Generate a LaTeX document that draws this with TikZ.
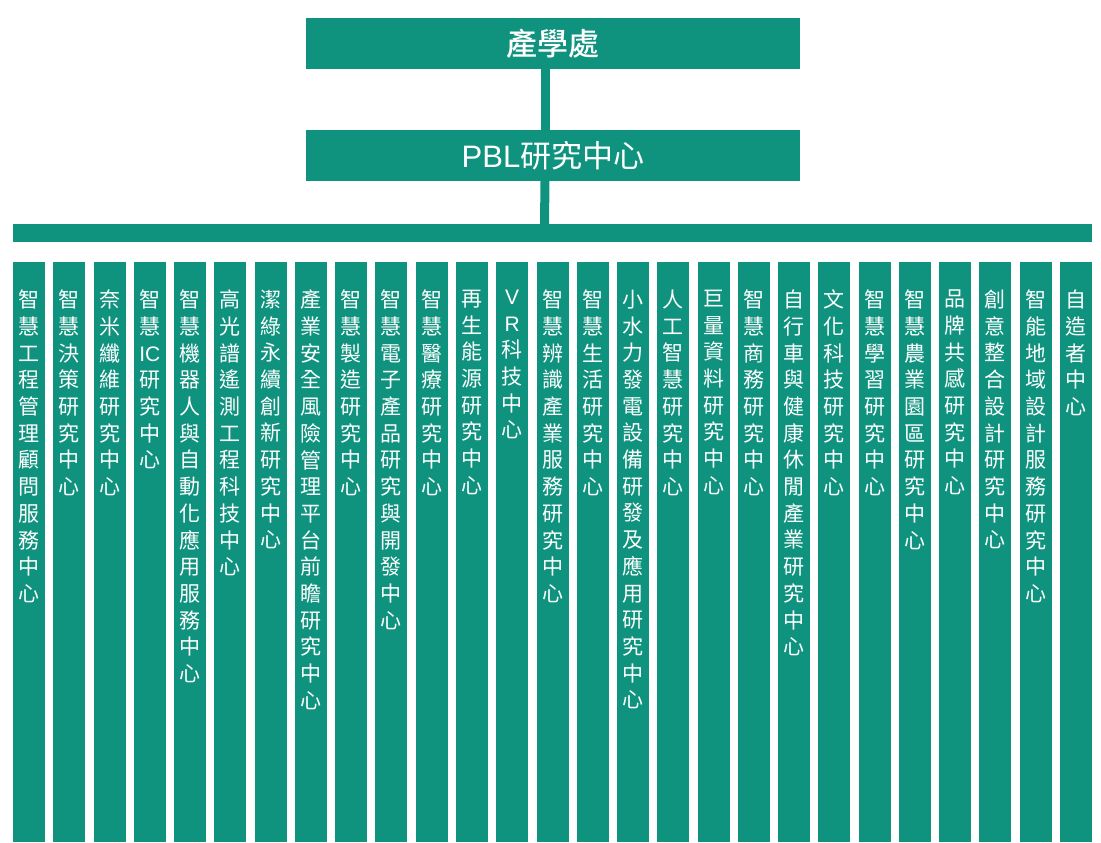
\documentclass[tikz,border=0pt]{standalone}
\usepackage{fontspec}
\newfontfamily\cjk[BoldFont={Noto Sans CJK TC Medium}]{Noto Sans CJK TC}
\newfontfamily\latin{Liberation Sans}
\usetikzlibrary{positioning}
\definecolor{pblgreen}{HTML}{0F937F}

\begin{document}
\begin{tikzpicture}[
  x=1pt, y=-1pt,
  box/.style={fill=pblgreen, inner sep=0pt, text=white},
  head/.style={box, minimum width=494pt, minimum height=51pt, font=\cjk\fontsize{31}{36}\selectfont},
  column/.style={box, minimum width=32pt, minimum height=580pt},
  colText/.style={text=white, inner sep=0pt, align=center, font=\cjk\fontsize{21}{26.7}\selectfont},
  link/.style={draw=pblgreen, line width=9pt}
]
  \useasboundingbox (0,0) rectangle (1101,843);

  \node[head, font=\cjk\bfseries\fontsize{31}{36}\selectfont] (office) at (553,43.5) {產學處};
  \node[head] (pbl) at (553,155.5) {{\latin PBL}研究中心};
  \node[box, minimum width=1079pt, minimum height=18pt] (bar) at (552.5,233) {};

  \draw[link] ([xshift=-8pt]office.south) -- ([xshift=-8pt]pbl.north);
  \draw[link] ([xshift=-8pt]pbl.south) -- ([xshift=-8pt]bar.north);

  % research centres, left to right
  \foreach \name [count=\i] in {
    {智\\慧\\工\\程\\管\\理\\顧\\問\\服\\務\\中\\心},
    {智\\慧\\決\\策\\研\\究\\中\\心},
    {奈\\米\\纖\\維\\研\\究\\中\\心},
    {智\\慧\\{\latin IC}\\研\\究\\中\\心},
    {智\\慧\\機\\器\\人\\與\\自\\動\\化\\應\\用\\服\\務\\中\\心},
    {高\\光\\譜\\遙\\測\\工\\程\\科\\技\\中\\心},
    {潔\\綠\\永\\續\\創\\新\\研\\究\\中\\心},
    {產\\業\\安\\全\\風\\險\\管\\理\\平\\台\\前\\瞻\\研\\究\\中\\心},
    {智\\慧\\製\\造\\研\\究\\中\\心},
    {智\\慧\\電\\子\\產\\品\\研\\究\\與\\開\\發\\中\\心},
    {智\\慧\\醫\\療\\研\\究\\中\\心},
    {再\\生\\能\\源\\研\\究\\中\\心},
    {{\latin V}\\{\latin R}\\科\\技\\中\\心},
    {智\\慧\\辨\\識\\產\\業\\服\\務\\研\\究\\中\\心},
    {智\\慧\\生\\活\\研\\究\\中\\心},
    {小\\水\\力\\發\\電\\設\\備\\研\\發\\及\\應\\用\\研\\究\\中\\心},
    {人\\工\\智\\慧\\研\\究\\中\\心},
    {巨\\量\\資\\料\\研\\究\\中\\心},
    {智\\慧\\商\\務\\研\\究\\中\\心},
    {自\\行\\車\\與\\健\\康\\休\\閒\\產\\業\\研\\究\\中\\心},
    {文\\化\\科\\技\\研\\究\\中\\心},
    {智\\慧\\學\\習\\研\\究\\中\\心},
    {智\\慧\\農\\業\\園\\區\\研\\究\\中\\心},
    {品\\牌\\共\\感\\研\\究\\中\\心},
    {創\\意\\整\\合\\設\\計\\研\\究\\中\\心},
    {智\\能\\地\\域\\設\\計\\服\\務\\研\\究\\中\\心},
    {自\\造\\者\\中\\心}}{
    \node[column] (c\i) at ({29+40.27*(\i-1)},552) {};
    \node[colText, below=28pt of c\i.north] (t\i) {\name};
  }
\end{tikzpicture}
\end{document}
